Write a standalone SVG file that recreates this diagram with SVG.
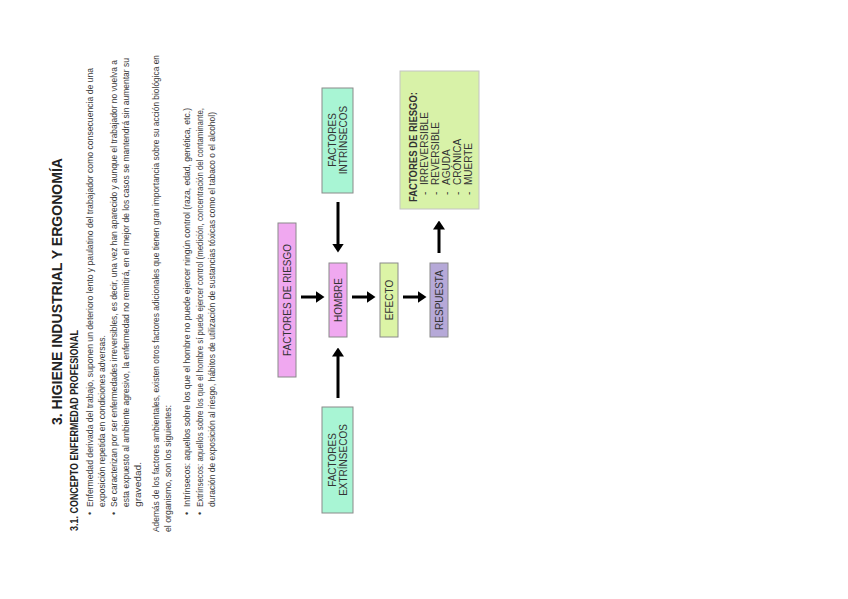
<svg xmlns="http://www.w3.org/2000/svg" width="848" height="599" viewBox="0 0 848 599">
<defs>
<style>
.b{font-family:"Liberation Sans",Arial,sans-serif;font-size:9px;fill:#3a3a3a}
.h{font-family:"Liberation Sans",Arial,sans-serif;font-weight:bold;fill:#222}
.t{font-family:"Liberation Sans",Arial,sans-serif;font-size:10px;fill:#333;text-anchor:middle}
.g{font-family:"Liberation Sans",Arial,sans-serif;font-size:10px;fill:#333}
.box{stroke:#8a8a8a;stroke-width:1}
.mint{fill:#a8f5d4}
.pink{fill:#f0a8f0}
.lime{fill:#dcf4a6}
.lav{fill:#b6a9d8}
.arr{stroke:#000;stroke-width:3;fill:none;marker-end:url(#ah)}
</style>
<marker id="ah" markerUnits="userSpaceOnUse" markerWidth="9" markerHeight="12" refX="0.5" refY="6" orient="auto" viewBox="0 0 9 12">
<path d="M0,0 L9,6 L0,12 z" fill="#000"/>
</marker>
</defs>
<rect width="848" height="599" fill="#fff"/>

<g id="page-text">
<text class="h" font-size="14" transform="translate(62,425) rotate(-90)" textLength="267" lengthAdjust="spacingAndGlyphs">3. HIGIENE INDUSTRIAL Y ERGONOMÍA</text>
<text class="h" font-size="10.5" transform="translate(77.5,531) rotate(-90)" textLength="201" lengthAdjust="spacingAndGlyphs">3.1. CONCEPTO ENFERMEDAD PROFESIONAL</text>
<text class="b" transform="translate(93,515) rotate(-90)">•</text>
<text class="b" transform="translate(93,507) rotate(-90)" textLength="439" lengthAdjust="spacingAndGlyphs">Enfermedad derivada del trabajo, suponen un deterioro lento y paulatino del trabajador como consecuencia de una</text>
<text class="b" transform="translate(105,507) rotate(-90)" textLength="172" lengthAdjust="spacingAndGlyphs">exposición repetida en condiciones adversas.</text>
<text class="b" transform="translate(117,515) rotate(-90)">•</text>
<text class="b" transform="translate(117,507) rotate(-90)" textLength="447" lengthAdjust="spacingAndGlyphs">Se caracterizan por ser enfermedades irreversibles, es decir, una vez han aparecido y aunque el trabajador no vuelva a</text>
<text class="b" transform="translate(129,507) rotate(-90)" textLength="449" lengthAdjust="spacingAndGlyphs">esta expuesto al ambiente agresivo, la enfermedad no remitirá, en el mejor de los casos se mantendrá sin aumentar su</text>
<text class="b" transform="translate(141,507) rotate(-90)" textLength="45" lengthAdjust="spacingAndGlyphs">gravedad.</text>
<text class="b" transform="translate(159,532) rotate(-90)" textLength="477" lengthAdjust="spacingAndGlyphs">Además de los factores ambientales, existen otros factores adicionales que tienen gran importancia sobre su acción biológica en</text>
<text class="b" transform="translate(171,532) rotate(-90)" textLength="127" lengthAdjust="spacingAndGlyphs">el organismo, son los siguientes:</text>
<text class="b" transform="translate(190,515) rotate(-90)">•</text>
<text class="b" transform="translate(190,507) rotate(-90)" textLength="399" lengthAdjust="spacingAndGlyphs">Intrínsecos: aquellos sobre los que el hombre no puede ejercer ningún control (raza, edad, genética, etc.)</text>
<text class="b" transform="translate(203,515) rotate(-90)">•</text>
<text class="b" transform="translate(203,507) rotate(-90)" textLength="399" lengthAdjust="spacingAndGlyphs">Extrínsecos: aquellos sobre los que el hombre sí puede ejercer control (medición, concentración del contaminante,</text>
<text class="b" transform="translate(215,507) rotate(-90)" textLength="395" lengthAdjust="spacingAndGlyphs">duración de exposición al riesgo, hábitos de utilización de sustancias tóxicas como el tabaco o el alcohol)</text>
</g>

<g id="connectors">
<line class="arr" x1="338" y1="202" x2="338" y2="244"/>
<line class="arr" x1="338" y1="398" x2="338" y2="356"/>
<line class="arr" x1="301" y1="297" x2="316" y2="297"/>
<line class="arr" x1="352" y1="297" x2="367" y2="297"/>
<line class="arr" x1="403" y1="297" x2="418" y2="297"/>
<line class="arr" x1="439" y1="253" x2="439" y2="229"/>
</g>

<g id="intrinsecos">
<rect class="box mint" x="322" y="88" width="31" height="105"/>
<text class="t" transform="translate(336,140) rotate(-90)">FACTORES</text>
<text class="t" transform="translate(347,140) rotate(-90)">INTRÍNSECOS</text>
</g>

<g id="factores-riesgo">
<rect class="box pink" x="278" y="223" width="18" height="154"/>
<text class="t" transform="translate(290.5,300) rotate(-90)">FACTORES DE RIESGO</text>
</g>

<g id="hombre">
<rect class="box pink" x="329" y="263" width="18" height="74"/>
<text class="t" transform="translate(341.5,300) rotate(-90)">HOMBRE</text>
</g>

<g id="efecto">
<rect class="box lime" x="380" y="263" width="18" height="74"/>
<text class="t" transform="translate(392.5,300) rotate(-90)">EFECTO</text>
</g>

<g id="respuesta">
<rect class="box lav" x="430" y="263" width="18" height="74"/>
<text class="t" transform="translate(442.5,300) rotate(-90)">RESPUESTA</text>
</g>

<g id="extrinsecos">
<rect class="box mint" x="322" y="407" width="31" height="106"/>
<text class="t" transform="translate(336,460) rotate(-90)">FACTORES</text>
<text class="t" transform="translate(347,460) rotate(-90)">EXTRÍNSECOS</text>
</g>

<g id="tipos-riesgo">
<rect x="400" y="71" width="79" height="138" fill="#d8f2a8" stroke="#c4c4c4" stroke-width="1"/>
<text class="g" font-weight="bold" transform="translate(417,202) rotate(-90)" textLength="110" lengthAdjust="spacingAndGlyphs">FACTORES DE RIESGO:</text>
<text class="g" transform="translate(428,195) rotate(-90)">-</text>
<text class="g" transform="translate(428,185) rotate(-90)">IRREVERSIBLE</text>
<text class="g" transform="translate(439,195) rotate(-90)">-</text>
<text class="g" transform="translate(439,185) rotate(-90)">REVERSIBLE</text>
<text class="g" transform="translate(450,195) rotate(-90)">-</text>
<text class="g" transform="translate(450,185) rotate(-90)">AGUDA</text>
<text class="g" transform="translate(461,195) rotate(-90)">-</text>
<text class="g" transform="translate(461,185) rotate(-90)">CRÓNICA</text>
<text class="g" transform="translate(472,195) rotate(-90)">-</text>
<text class="g" transform="translate(472,185) rotate(-90)">MUERTE</text>
</g>
</svg>
